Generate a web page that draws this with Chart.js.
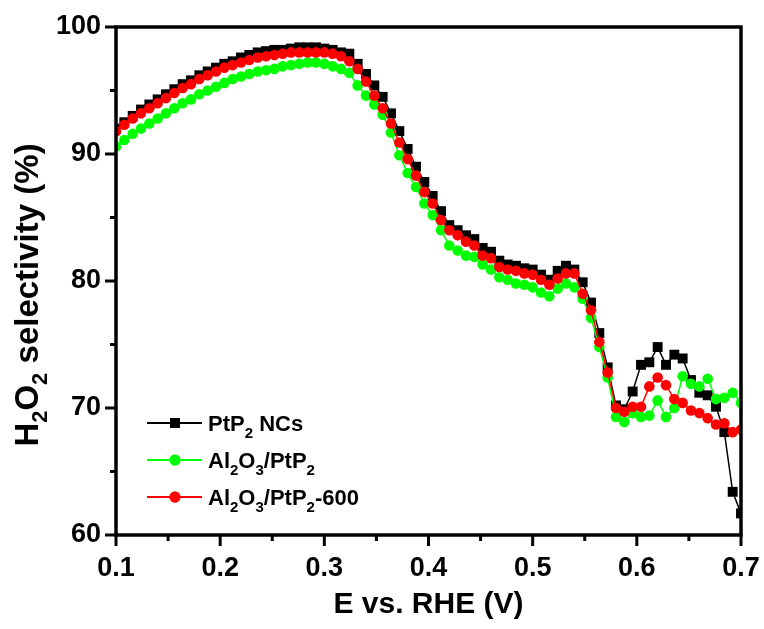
<!DOCTYPE html>
<html lang="en">
<head>
<meta charset="UTF-8">
<title>H2O2 selectivity vs potential</title>
<script src="https://cdn.jsdelivr.net/npm/chart.js@4.4.0/dist/chart.umd.min.js"></script>
<style>
  html, body { margin: 0; padding: 0; background: #fff; }
  #wrap { width: 764px; height: 629px; }
</style>
</head>
<body>
<div id="wrap"><canvas id="selChart" width="764" height="629"></canvas></div>
<script>
// potential (V vs. RHE)
const potential = [
  0.100, 0.108, 0.116, 0.124, 0.132, 0.140, 0.148, 0.156, 0.164, 0.172,
  0.180, 0.188, 0.196, 0.204, 0.212, 0.220, 0.228, 0.236, 0.244, 0.252,
  0.260, 0.268, 0.276, 0.284, 0.292, 0.300, 0.308, 0.316, 0.324, 0.332,
  0.340, 0.348, 0.356, 0.364, 0.372, 0.380, 0.388, 0.396, 0.404, 0.412,
  0.420, 0.428, 0.436, 0.444, 0.452, 0.460, 0.468, 0.476, 0.484, 0.492,
  0.500, 0.508, 0.516, 0.524, 0.532, 0.540, 0.548, 0.556, 0.564, 0.572,
  0.580, 0.588, 0.596, 0.604, 0.612, 0.620, 0.628, 0.636, 0.644, 0.652,
  0.660, 0.668, 0.676, 0.684, 0.692, 0.700
];

// H2O2 selectivity (%)
const ptp2NCs = [
  92.0, 92.5, 93.0, 93.5, 93.9, 94.3, 94.7, 95.1, 95.5, 95.8,
  96.2, 96.5, 96.8, 97.1, 97.3, 97.6, 97.8, 98.0, 98.1, 98.2,
  98.2, 98.3, 98.4, 98.4, 98.4, 98.3, 98.2, 98.0, 97.9, 97.1,
  96.3, 95.4, 94.5, 93.2, 91.8, 90.4, 89.0, 87.8, 86.7, 85.5,
  84.4, 84.0, 83.6, 83.3, 82.6, 82.3, 81.6, 81.3, 81.2, 81.0,
  80.9, 80.5, 80.1, 80.8, 81.2, 80.9, 79.9, 78.3, 75.9, 73.2,
  70.2, 69.9, 71.3, 73.4, 73.6, 74.8, 73.4, 74.2, 73.9, 72.2,
  71.2, 71.0, 70.1, 68.1, 63.4, 61.7
];
const al2o3PtP2 = [
  90.6, 91.1, 91.6, 92.0, 92.4, 92.8, 93.2, 93.6, 94.0, 94.3,
  94.7, 95.0, 95.3, 95.6, 95.9, 96.1, 96.3, 96.5, 96.6, 96.7,
  96.9, 97.0, 97.1, 97.2, 97.2, 97.1, 96.9, 96.7, 96.4, 95.4,
  94.6, 93.9, 93.1, 91.7, 89.9, 88.5, 87.4, 86.1, 85.2, 84.0,
  82.8, 82.4, 82.0, 81.9, 81.3, 80.9, 80.3, 80.1, 79.8, 79.7,
  79.5, 79.1, 78.8, 79.4, 79.8, 79.5, 78.6, 77.1, 74.8, 72.4,
  69.3, 68.9, 69.6, 69.3, 69.4, 70.6, 69.3, 70.0, 72.5, 71.9,
  71.7, 72.3, 70.7, 70.8, 71.2, 70.4
];
const al2o3PtP2_600 = [
  91.8, 92.3, 92.8, 93.2, 93.6, 94.0, 94.4, 94.8, 95.2, 95.5,
  95.9, 96.2, 96.5, 96.8, 97.0, 97.2, 97.4, 97.6, 97.7, 97.8,
  97.9, 98.0, 98.0, 98.0, 98.0, 98.0, 97.9, 97.7, 97.3, 96.7,
  95.7, 94.6, 93.6, 92.4, 90.9, 89.6, 88.3, 87.0, 86.1, 84.8,
  84.0, 83.6, 83.1, 82.8, 82.0, 81.8, 81.1, 80.9, 80.8, 80.6,
  80.5, 80.1, 79.7, 80.2, 80.6, 80.6, 79.0, 77.7, 75.2, 72.8,
  70.0, 69.7, 70.1, 70.1, 71.7, 72.4, 71.8, 70.7, 70.4, 69.8,
  69.6, 69.2, 68.7, 68.8, 68.1, 68.3
];

const xMajorTicks = [0.1, 0.2, 0.3, 0.4, 0.5, 0.6, 0.7];
const xMinorTicks = [0.15, 0.25, 0.35, 0.45, 0.55, 0.65];
const yMajorTicks = [60, 70, 80, 90, 100];
const yMinorTicks = [65, 75, 85, 95];

const FONT = "'Liberation Sans', Arial, sans-serif";

function toPoints(ys) {
  return potential.map((x, i) => ({ x: x, y: ys[i] }));
}

// text with subscript pieces: [text, isSub]
function drawRich(ctx, pieces, x, y, size, subSize, subDrop, align) {
  let total = 0;
  pieces.forEach(p => {
    ctx.font = 'bold ' + (p[1] ? subSize : size) + 'px ' + FONT;
    total += ctx.measureText(p[0]).width;
  });
  let cx = align === 'center' ? x - total / 2 : x;
  ctx.textAlign = 'left';
  ctx.textBaseline = 'alphabetic';
  pieces.forEach(p => {
    ctx.font = 'bold ' + (p[1] ? subSize : size) + 'px ' + FONT;
    ctx.fillText(p[0], cx, p[1] ? y + subDrop : y);
    cx += ctx.measureText(p[0]).width;
  });
}

const legendItems = [
  { color: '#000000', style: 'rect', pieces: [['PtP', 0], ['2', 1], [' NCs', 0]] },
  { color: '#00ff00', style: 'circle', pieces: [['Al', 0], ['2', 1], ['O', 0], ['3', 1], ['/PtP', 0], ['2', 1]] },
  { color: '#ff0000', style: 'circle', pieces: [['Al', 0], ['2', 1], ['O', 0], ['3', 1], ['/PtP', 0], ['2', 1], ['-600', 0]] }
];

const decorPlugin = {
  id: 'decor',
  afterDraw(chart) {
    const ctx = chart.ctx;
    const a = chart.chartArea;
    const xs = chart.scales.x, ys = chart.scales.y;
    ctx.save();
    ctx.strokeStyle = '#000';
    ctx.fillStyle = '#000';

    // frame
    ctx.lineWidth = 3.5;
    ctx.strokeRect(a.left, a.top, a.right - a.left, a.bottom - a.top);

    // ticks (outward, left and bottom)
    ctx.lineWidth = 3;
    ctx.beginPath();
    xMajorTicks.forEach(v => { const px = xs.getPixelForValue(v); ctx.moveTo(px, a.bottom); ctx.lineTo(px, a.bottom + 11); });
    xMinorTicks.forEach(v => { const px = xs.getPixelForValue(v); ctx.moveTo(px, a.bottom); ctx.lineTo(px, a.bottom + 6); });
    yMajorTicks.forEach(v => { const py = ys.getPixelForValue(v); ctx.moveTo(a.left, py); ctx.lineTo(a.left - 11, py); });
    yMinorTicks.forEach(v => { const py = ys.getPixelForValue(v); ctx.moveTo(a.left, py); ctx.lineTo(a.left - 6, py); });
    ctx.stroke();

    // axis titles
    drawRich(ctx, [['E vs. RHE (V)', 0]], (a.left + a.right) / 2, 613, 30, 20, 8, 'center');
    ctx.save();
    ctx.translate(38, 295);
    ctx.rotate(-Math.PI / 2);
    drawRich(ctx, [['H', 0], ['2', 1], ['O', 0], ['2', 1], [' selectivity (%)', 0]], 0, 0, 33, 22, 9, 'center');
    ctx.restore();

    // legend
    legendItems.forEach((it, i) => {
      const cy = 423 + i * 37;
      ctx.strokeStyle = it.color;
      ctx.fillStyle = it.color;
      ctx.lineWidth = 2;
      ctx.beginPath();
      ctx.moveTo(147, cy);
      ctx.lineTo(202, cy);
      ctx.stroke();
      Chart.helpers.drawPoint(ctx, { pointStyle: it.style, radius: it.style === 'rect' ? 7 : 5.5, borderWidth: 0 }, 175, cy);
      ctx.fill();
      ctx.fillStyle = '#000';
      drawRich(ctx, it.pieces, 208, cy + 8, 22, 15, 7, 'left');
    });
    ctx.restore();
  }
};

function series(label, ys, color, style, radius, order) {
  return {
    label: label,
    data: toPoints(ys),
    borderColor: color,
    backgroundColor: color,
    borderWidth: 1.5,
    pointStyle: style,
    pointRadius: radius,
    pointBackgroundColor: color,
    pointBorderColor: color,
    pointBorderWidth: 0,
    tension: 0,
    order: order
  };
}

function noPad(s) {
  s.paddingLeft = 0; s.paddingRight = 0; s.paddingTop = 0; s.paddingBottom = 0;
}

new Chart(document.getElementById('selChart'), {
  type: 'line',
  data: {
    datasets: [
      series('PtP2 NCs', ptp2NCs, '#000000', 'rect', 7, 2),
      series('Al2O3/PtP2', al2o3PtP2, '#00ff00', 'circle', 5.3, 1),
      series('Al2O3/PtP2-600', al2o3PtP2_600, '#ff0000', 'circle', 5.3, 0)
    ]
  },
  options: {
    responsive: false,
    animation: false,
    layout: { padding: { left: 0, right: 23, top: 27, bottom: 0 } },
    plugins: { legend: { display: false }, tooltip: { enabled: false } },
    scales: {
      x: {
        type: 'linear',
        min: 0.1,
        max: 0.7,
        afterFit: s => { s.height = 94; noPad(s); },
        grid: { display: false, drawTicks: false },
        border: { display: false },
        ticks: {
          stepSize: 0.1,
          padding: 17,
          color: '#000',
          font: { family: FONT, size: 27, weight: 'bold' },
          callback: v => Number(v).toFixed(1)
        }
      },
      y: {
        min: 60,
        max: 100,
        afterFit: s => { s.width = 116; noPad(s); },
        grid: { display: false, drawTicks: false },
        border: { display: false },
        ticks: {
          stepSize: 10,
          padding: 15,
          color: '#000',
          font: { family: FONT, size: 27, weight: 'bold' }
        }
      }
    }
  },
  plugins: [decorPlugin]
});
</script>
</body>
</html>
